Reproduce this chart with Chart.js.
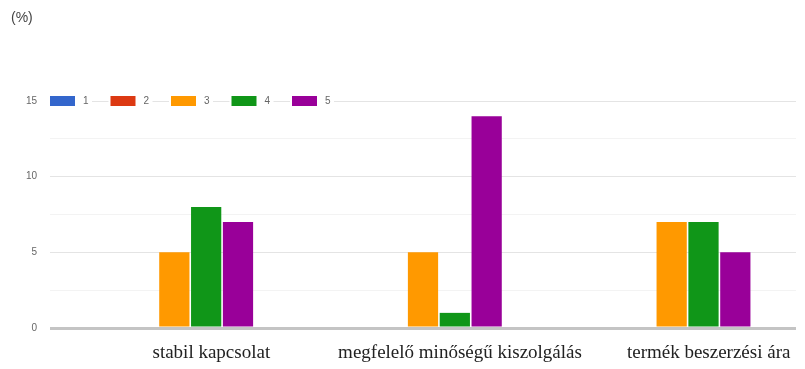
<!DOCTYPE html>
<html>
<head>
<meta charset="utf-8">
<script src="https://cdn.jsdelivr.net/npm/chart.js@4/dist/chart.umd.min.js"></script>
<style>
  html, body { margin: 0; padding: 0; background: #fff; }
  #wrap { width: 805px; height: 369px; position: relative; }
</style>
</head>
<body>
<div id="wrap"><canvas id="myChart"></canvas></div>
<script>
// categories and series (values in %)
var categories = ['stabil kapcsolat', 'megfelelő minőségű kiszolgálás', 'termék beszerzési ára'];
var seriesNames = ['1', '2', '3', '4', '5'];
var series1 = [0, 0, 0];
var series2 = [0, 0, 0];
var series3 = [5, 5, 7];
var series4 = [8, 1, 7];
var series5 = [7, 14, 5];
var colors = ['#3366cc', '#dc3912', '#ff9900', '#109618', '#990099'];
var yTicks = [0, 5, 10, 15];

var allSeries = [series1, series2, series3, series4, series5];
var datasets = [];
for (var i = 0; i < allSeries.length; i++) {
    datasets.push({
        label: seriesNames[i],
        data: allSeries[i],
        backgroundColor: colors[i],
        borderWidth: 0,
        categoryPercentage: 0.64,
        barPercentage: 0.95
    });
}

// unit label + legend drawn on top of the plot, like the original
var overlay = {
    id: 'overlay',
    afterDraw: function (chart) {
        var ctx = chart.ctx;
        ctx.save();
        ctx.fillStyle = '#444';
        ctx.font = '14px "Liberation Sans", Arial, sans-serif';
        ctx.textBaseline = 'middle';
        ctx.textAlign = 'left';
        ctx.fillText('(%)', 11, 18);

        var y = chart.chartArea.top;
        var x = chart.chartArea.left;
        ctx.font = '10px "Liberation Sans", Arial, sans-serif';
        chart.data.datasets.forEach(function (ds) {
            ctx.fillStyle = '#fff';
            ctx.fillRect(x - 2, y - 6, 44, 12);
            ctx.fillStyle = ds.backgroundColor;
            ctx.fillRect(x, y - 5, 25, 10);
            ctx.fillStyle = '#666';
            ctx.fillText(ds.label, x + 33, y);
            x += 60.5;
        });
        ctx.restore();
    }
};

new Chart(document.getElementById('myChart'), {
    type: 'bar',
    data: { labels: categories, datasets: datasets },
    plugins: [overlay],
    options: {
        responsive: true,
        maintainAspectRatio: false,
        animation: false,
        layout: { padding: { top: 101, right: 9, left: 0, bottom: 0 } },
        plugins: {
            legend: { display: false },
            tooltip: { enabled: false }
        },
        scales: {
            x: {
                grid: { display: false, drawTicks: false },
                border: { display: false },
                ticks: {
                    padding: 14,
                    labelOffset: 37,
                    maxRotation: 0,
                    minRotation: 0,
                    autoSkip: false,
                    color: '#222',
                    font: { family: '"Liberation Serif", "Times New Roman", serif', size: 19 }
                },
                afterFit: function (scale) { scale.height = 41; }
            },
            y: {
                min: 0,
                max: 15,
                border: { display: false },
                grid: {
                    drawTicks: false,
                    color: function (c) {
                        if (c.tick.value === 0) return '#c4c4c4';
                        return c.tick.value % 5 === 0 ? '#e4e4e4' : '#f3f3f3';
                    },
                    lineWidth: function (c) { return c.tick.value === 0 ? 3 : 1; }
                },
                ticks: {
                    stepSize: 2.5,
                    padding: 13,
                    color: '#666',
                    font: { family: '"Liberation Sans", Arial, sans-serif', size: 10 },
                    callback: function (v) { return yTicks.indexOf(v) >= 0 ? v : ''; }
                },
                afterFit: function (scale) { scale.width = 50; }
            }
        }
    }
});
</script>
</body>
</html>
